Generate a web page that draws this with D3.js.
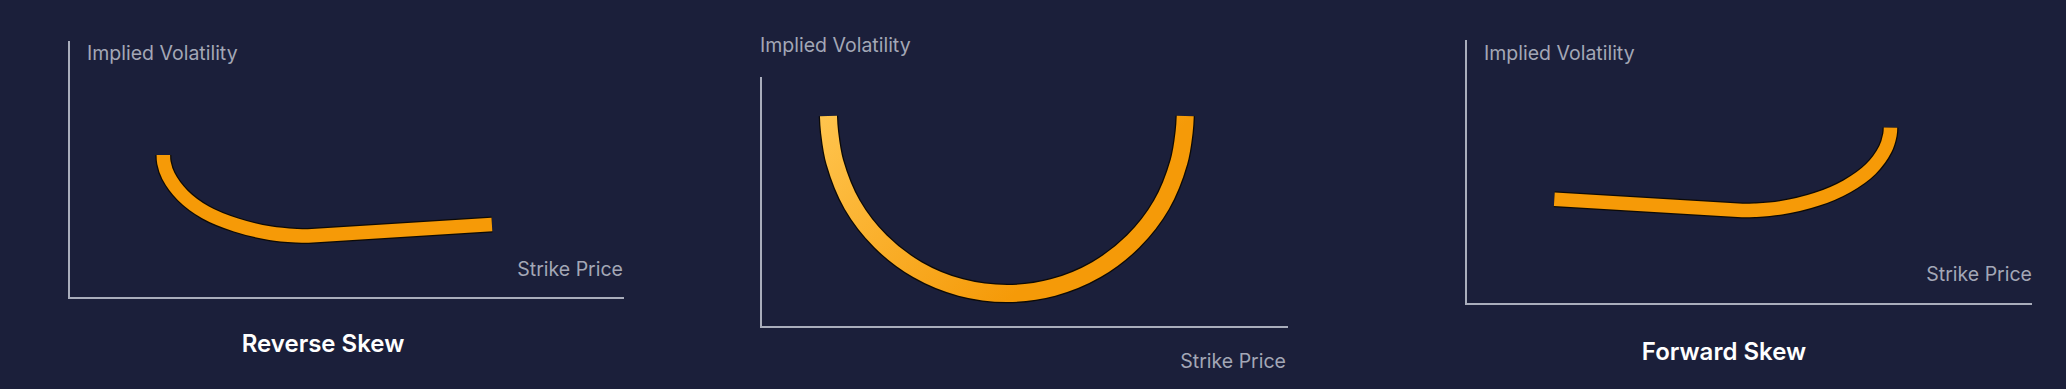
<!DOCTYPE html>
<html>
<head>
<meta charset="utf-8">
<script src="https://cdn.jsdelivr.net/npm/d3@7"></script>
<style>
  html, body { margin: 0; padding: 0; background: #1b1f3a; }
  svg { display: block; }
  text { font-family: Inter, 'Noto Sans', sans-serif; }
</style>
</head>
<body>
<svg width="2066" height="389"></svg>
<script>
// axis labels and panel titles
var yLabel = 'Implied Volatility'
var xLabel = 'Strike Price'
var titles = ['Reverse Skew', '', 'Forward Skew']

// curves (0..100 along each axis)
// each skew = a bent part + a straight part
var reverseArcX = [17.0, 17.1, 17.9, 20.5, 24.6, 30.1, 36.3, 41.1, 43.1]
var reverseArcY = [55.6, 52.7, 47.5, 39.9, 33.3, 28.4, 25.2, 24.2, 24.1]
var reverseLineX = [43.1, 76.2]
var reverseLineY = [24.1, 28.6]

var smileX = [12.8, 13.0, 14.0, 17.3, 22.7, 29.7, 37.9, 46.7, 55.4, 63.6, 70.6, 76.0, 79.3, 80.3, 80.5]
var smileY = [84.4, 78.2, 66.0, 48.9, 34.2, 22.9, 15.8, 13.4, 15.8, 22.9, 34.2, 48.9, 66.0, 78.2, 84.4]

var forwardLineX = [15.6, 48.8]
var forwardLineY = [39.7, 35.4]
var forwardArcX = [48.8, 51.0, 55.6, 61.9, 67.3, 71.5, 74.1, 74.9, 75.0]
var forwardArcY = [35.4, 35.5, 36.4, 39.6, 44.6, 51.1, 58.7, 64.1, 66.8]

function zip(xs, ys) { return xs.map(function(v, k) { return [v, ys[k]] }) }

var svg = d3.select('svg')

var defs = svg.append('defs')
var grad = defs.append('linearGradient')
    .attr('id', 'smileGrad')
    .attr('gradientUnits', 'userSpaceOnUse')
    .attr('x1', 820).attr('y1', 110)
    .attr('x2', 1010).attr('y2', 300)
grad.append('stop').attr('offset', '0%').attr('stop-color', '#ffc54f')
grad.append('stop').attr('offset', '100%').attr('stop-color', '#f59a08')

// layout of each panel (pixels)
var panels = [
  { left: 69, right: 624, top: 41, bottom: 298, w: 13.5,
    arc: zip(reverseArcX, reverseArcY), seg: zip(reverseLineX, reverseLineY), segFirst: false,
    yl: [87, 60], xl: [623, 276], title: [323, 352], fill: '#f69a07' },
  { left: 761, right: 1288, top: 77, bottom: 327, w: 17,
    arc: zip(smileX, smileY), seg: null,
    yl: [760, 52], xl: [1286, 368], title: null, fill: 'url(#smileGrad)' },
  { left: 1466, right: 2032, top: 40, bottom: 304, w: 13.5,
    arc: zip(forwardArcX, forwardArcY), seg: zip(forwardLineX, forwardLineY), segFirst: true,
    yl: [1484, 60], xl: [2032, 281], title: [1724, 360], fill: '#f69a07' }
]

panels.forEach(function(p, i) {
  var g = svg.append('g')

  var x = d3.scaleLinear().domain([0, 100]).range([p.left, p.right])
  var y = d3.scaleLinear().domain([0, 100]).range([p.bottom, p.top])

  // axes as plain lines
  g.append('path')
      .attr('d', 'M' + x(0) + ',' + y(100) + 'V' + y(0) + 'H' + x(100))
      .attr('fill', 'none')
      .attr('stroke', '#a9adbb')
      .attr('stroke-width', 2)

  g.append('text')
      .attr('x', p.yl[0]).attr('y', p.yl[1])
      .attr('fill', '#a3a7b6')
      .attr('font-size', 19.5)
      .text(yLabel)

  g.append('text')
      .attr('x', p.xl[0]).attr('y', p.xl[1])
      .attr('text-anchor', 'end')
      .attr('fill', '#a3a7b6')
      .attr('font-size', 19.5)
      .text(xLabel)

  if (p.title) {
    g.append('text')
        .attr('x', p.title[0]).attr('y', p.title[1])
        .attr('text-anchor', 'middle')
        .attr('fill', '#ffffff')
        .attr('font-size', 24)
        .attr('font-weight', 600)
        .text(titles[i])
  }

  var curved = d3.line()
      .x(function(d) { return x(d[0]) })
      .y(function(d) { return y(d[1]) })
      .curve(d3.curveCatmullRom.alpha(0.5))
  var straight = d3.line()
      .x(function(d) { return x(d[0]) })
      .y(function(d) { return y(d[1]) })

  // one continuous path so the join has no seam
  var d = curved(p.arc)
  if (p.seg) {
    if (p.segFirst) d = straight(p.seg) + d.replace(/^M/, 'L')
    else d = d + straight(p.seg).replace(/^M/, 'L')
  }

  // dark outline under the orange band
  g.append('path')
      .attr('d', d)
      .attr('fill', 'none')
      .attr('stroke', '#0d0a05')
      .attr('stroke-linejoin', 'round')
      .attr('stroke-width', p.w + 2.5)
  g.append('path')
      .attr('d', d)
      .attr('fill', 'none')
      .attr('stroke', p.fill)
      .attr('stroke-linejoin', 'round')
      .attr('stroke-width', p.w)
})
</script>
</body>
</html>
